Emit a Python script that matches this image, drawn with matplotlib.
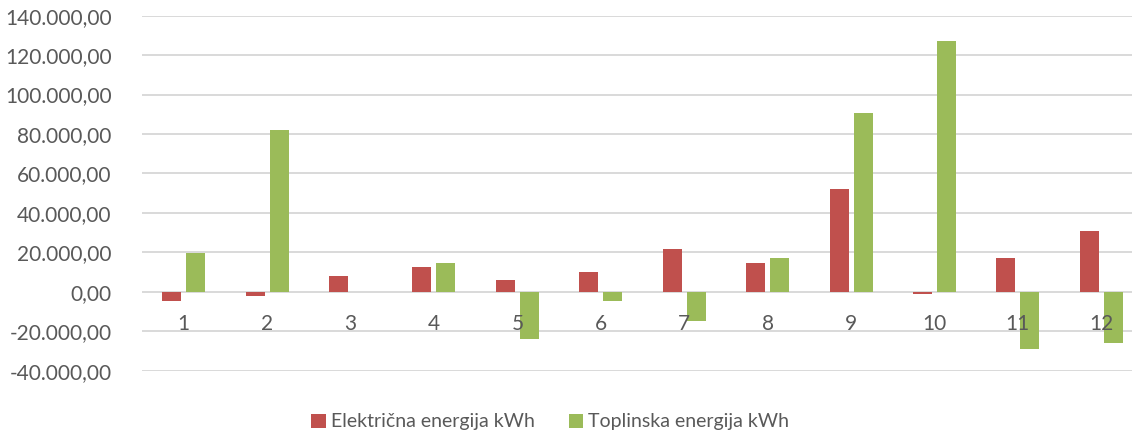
import matplotlib.pyplot as plt
import numpy as np
from matplotlib.ticker import FuncFormatter

plt.rcParams['font.family'] = ['Lato', 'DejaVu Sans']

mjeseci = ['1', '2', '3', '4', '5', '6', '7', '8', '9', '10', '11', '12']
elektricna = [-4900, -2200, 7800, 12500, 6100, 9800, 21650, 14700, 51950, -1200, 17250, 30800]
toplinska = [19600, 81900, 0, 14550, -24000, -4900, -14700, 17250, 90700, 127400, -29100, -26200]
serije = ['Električna energija kWh', 'Toplinska energija kWh']
boje = ['#C0504D', '#9BBB59']


def eu_format(v, pos):
    s = f"{v:,.2f}"
    return s.replace(',', 'X').replace('.', ',').replace('X', '.')


fig = plt.figure(figsize=(11.32, 4.37), dpi=100)
# desni rub ide malo izvan slike kao u originalu
ax = fig.add_axes([142 / 1132, 1 - 370.7 / 437, (1143 - 142) / 1132, (370.7 - 15.7) / 437])

x = np.arange(len(mjeseci))
w = 0.228
ax.bar(x - 0.144, elektricna, w, color=boje[0], label=serije[0], zorder=2)
ax.bar(x + 0.144, toplinska, w, color=boje[1], label=serije[1], zorder=2)

ax.set_xlim(-0.5, len(mjeseci) - 0.5)
ax.set_ylim(-40000, 140000)
ax.set_yticks(np.arange(-40000, 140001, 20000))
ax.yaxis.set_major_formatter(FuncFormatter(eu_format))
ax.grid(axis='y', color='#d9d9d9', linewidth=1.4)
ax.yaxis.set_zorder(0.5)
ax.xaxis.set_zorder(5)  # oznake mjeseci iznad stupaca

for s in ax.spines.values():
    s.set_visible(False)
ax.spines['bottom'].set_position(('data', 0))

ax.set_xticks(x)
ax.set_xticklabels(mjeseci)
ax.tick_params(axis='x', length=0, pad=16, labelsize=15, labelcolor='#595959')
ax.tick_params(axis='y', length=0, pad=22, labelsize=15, labelcolor='#595959')

leg = fig.legend(loc='center', bbox_to_anchor=(0.486, 1 - 422 / 437), ncol=2, frameon=False,
                 fontsize=14, handlelength=0.75, handleheight=0.75, handletextpad=0.25,
                 columnspacing=1.75)
for t in leg.get_texts():
    t.set_color('#595959')

fig.savefig('out.png', dpi=100)
